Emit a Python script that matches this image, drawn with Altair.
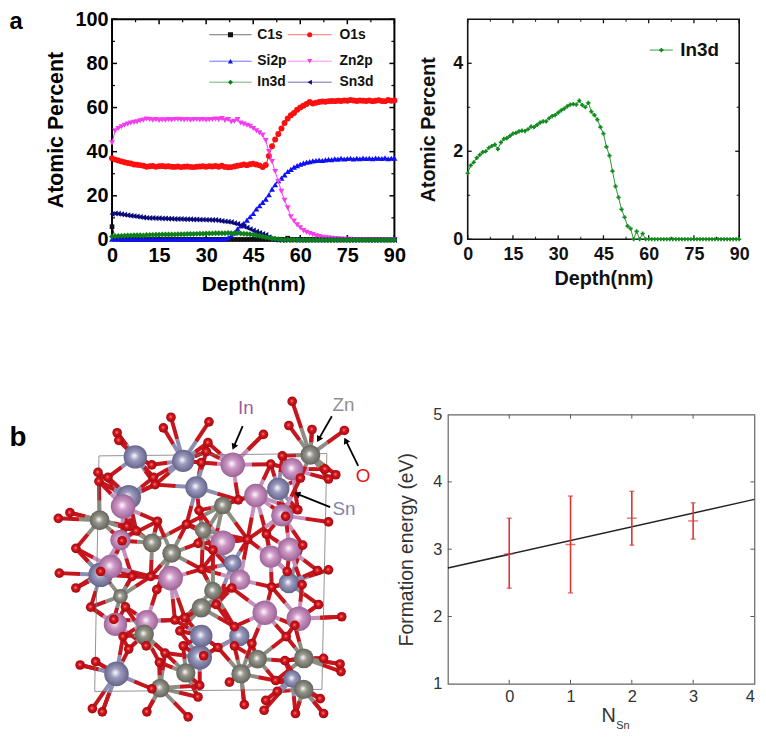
import math
import altair as alt
import pandas as pd

FONT = "Liberation Sans"

DEPTH = list(range(91))
C1S = [6, 1, .5] + [.2] * 53 + [.8] + [.2] * 34
O1S = [37,36.4,36,35.6,35.2,34.9,34.6,34.2,34.1,33.9,
       33.6,33.2,33.4,33.5,33.2,33.4,33.5,33.3,33.4,33.2,
       33.1,33.3,33.0,33.2,33.3,33.1,33.0,33.2,33.3,33.4,
       33.2,33.4,33.3,33.5,33.2,33.6,33.1,32.9,33.0,33.3,
       33.6,33.9,34.2,33.9,34.3,34.5,34.2,33.8,33.0,34.0,
       38,42.5,45.5,48,50.5,53,55,56.5,57.5,59,
       60,60.8,61.6,62.5,61.8,62.2,62.5,62.7,62.6,62.9,
       63,62.9,63.1,63,63.2,63.1,63.4,63.2,63,63.2,
       63.1,63,63.2,62.9,63.1,63.3,63,62.9,63.4,63.1,63.2]
SI2P = [.3] * 36 + [.5,1,2,3.2,5,6.3,7.5,9,10.5,12,14,15.5,17,18.5,20.5,23,25,26.8,28,29.5,
        31,32,33,33.7,34.3,34.8,35.2,35.5,35.8,36,36.2,36,36.3,36.5,36.4,36.8,36.6,37,36.7,36.9,
        37,36.7,37,36.8,37.1,36.9,37,36.8,37.1,37,36.9,37.2,36.8,37,37.1]
ZN2P = [44,49.5,50.5,51.3,52,52.5,53,53.3,53.5,54,
        54.3,54.8,54.6,54.3,54.5,54.2,54.4,54.3,54.5,54.4,
        54.6,54.7,54.5,54.4,54.6,54.3,54.5,54.6,54.4,54.5,
        54.3,54.5,54.6,54.8,54.5,55,54.2,54.6,53.5,53.8,
        54.5,53,52.5,52,51.5,50.5,49.5,48.5,47.5,45,
        40,35.5,31,26.5,22,18,14.5,10.5,8.5,6.8,
        5.5,4.2,3.5,2.9,2.4,1.9,1.5,1.2,1,.8,
        .7,.6,.5,.4,.3,.3,.3,.2,.2,.2,
        .2,.2,.2,.2,.2,.2,.2,.2,.2,.2,.2]
IN3D = [1.5,1.68,1.75,1.85,1.92,1.98,2.0,2.08,2.12,2.15,
        2.05,2.2,2.28,2.3,2.35,2.4,2.42,2.45,2.47,2.46,
        2.5,2.56,2.55,2.6,2.65,2.68,2.68,2.75,2.8,2.82,
        2.88,2.93,2.97,3.02,3.06,3.07,3.06,3.15,3.05,3.0,
        3.1,2.9,2.82,2.72,2.55,2.4,2.1,1.9,1.55,1.2,
        .95,.68,.5,.3,.24,0,.18,0,.13,0] + [0] * 31
SN3D = [11.8,12,11.9,11.6,11.4,11.2,11,10.8,10.6,10.4,
        10.2,10,9.9,9.9,9.8,9.8,9.7,9.7,9.6,9.6,
        9.5,9.5,9.5,9.4,9.4,9.4,9.3,9.3,9.2,9.2,
        9.1,9.1,9,9,8.8,8.6,8.4,8.2,8,7.6,
        7.2,6.7,6.1,5.5,4.9,4.3,3.7,3.2,2.7,2.2,
        1.2,.4,.1] + [0] * 38

LEG_NAMES = ["C1s", "O1s", "Si2p", "Zn2p", "In3d", "Sn3d"]
LEG_X0 = [31, 56, 31, 56, 31, 56]
LEG_X1 = [44.5, 70, 44.5, 70, 44.5, 70]
LEG_Y = [93, 93, 81, 81, 71.5, 71.5]
LEG_TX = [46.3, 72.5, 46.3, 72.5, 46.3, 72.5]

N_SN = [0, 1, 2, 3]
E_MEAN = [2.93, 3.07, 3.46, 3.42]
E_LOW = [2.42, 2.35, 3.06, 3.15]
E_HIGH = [3.46, 3.79, 3.86, 3.69]
FIT_X = [-1, 4]
FIT_Y = [2.72, 3.74]

SN_ATOMS = [(405,228,40),(550,240,38),(590,320,38),(838,325,38),(385,350,42),(300,585,42),
            (348,885,42),(600,835,42),(605,770,38),(700,550,30),(870,610,35),(720,770,35),(880,900,30)]
IN_ATOMS = [(700,252,42),(880,265,38),(770,345,40),(850,405,38),(360,480,35),(815,530,38),
            (330,560,40),(722,600,35),(345,735,40),(440,725,38),(368,378,42),(670,488,42),
            (872,508,40),(512,595,42),(797,700,42),(900,718,42)]
ZN_ATOMS = [(935,222,34),(297,420,34),(456,488,32),(515,520,32),(670,375,30),(610,450,28),
            (640,633,30),(605,685,33),(432,765,33),(360,650,25),(775,840,32),(725,885,33),
            (558,882,33),(915,838,34),(915,932,33),(480,928,32)]
O_ATOMS = [(880,60),(870,133),(940,145),(1038,148),(513,108),(490,140),(350,155),(355,178),
           (628,122),(793,160),(625,185),(620,212),(605,245),(850,225),(815,250),(455,252),
           (292,275),(322,290),(295,302),(460,290),(465,312),(980,265),(1012,282),(990,295),
           (905,292),(717,358),(598,390),(897,388),(860,408),(207,397),(172,414),(380,438),
           (408,452),(472,423),(560,432),(990,425),(745,478),(802,462),(365,482),(225,505),
           (912,495),(640,510),(595,490),(300,575),(175,580),(606,568),(452,590),(395,590),
           (990,570),(957,572),(865,575),(697,625),(818,622),(225,625),(910,615),(470,630),
           (270,683),(375,682),(650,675),(960,675),(1030,712),(340,720),(555,715),(525,722),
           (705,742),(888,738),(368,772),(540,755),(862,772),(438,800),(758,793),(705,800),
           (655,805),(550,800),(495,822),(612,830),(385,810),(858,845),(975,838),(1025,855),
           (1028,878),(238,858),(285,848),(478,850),(600,920),(455,930),(835,938),(830,905),
           (595,955),(800,965),(735,978),(275,990),(305,1000),(440,1000),(795,995),(890,1005),
           (975,1005),(565,1015),(965,960),(690,910)]
CELL_X = [295, 985, 970, 282, 295]
CELL_Y = [225, 218, 932, 938, 225]
ARROWS = [(730,135,703,198),(1000,105,960,175),(1080,255,1042,178),(995,380,895,340)]
ATOM_LABELS = [("In",740,80,"#a8569c"),("Zn",1035,72,"#8f8f8f"),("Sn",1037,385,"#8484ab"),("O",1095,285,"#e01818")]


def ticks(vals, channel, scale, axis, span, length, color, width):
    df = pd.DataFrame({"v": vals})
    out = []
    if channel == "x":
        for a, b in [(span, span - length), (0, length)]:
            out.append(alt.Chart(df).mark_rule(color=color, strokeWidth=width).encode(
                x=alt.X("v:Q", scale=scale, axis=axis), y=alt.value(a), y2=alt.value(b)))
    else:
        for a, b in [(0, length), (span, span - length)]:
            out.append(alt.Chart(df).mark_rule(color=color, strokeWidth=width).encode(
                y=alt.Y("v:Q", scale=scale, axis=axis), x=alt.value(a), x2=alt.value(b)))
    return out


def series_layers(xvals, yvals, color, shape, X, Y, msize, line=1.0):
    df = pd.DataFrame({"d": xvals, "v": yvals})
    base = alt.Chart(df).encode(x=X("d:Q"), y=Y("v:Q"))
    return [base.mark_line(color=color, strokeWidth=line),
            base.mark_point(color=color, shape=shape, filled=True, size=msize, opacity=1)]


def axis_maker(kind, scale, axis):
    cls = alt.X if kind == "x" else alt.Y
    return lambda f: cls(f, scale=scale, axis=axis)


# ---------- panel a, left
AW, AH = 285, 222.7
xs_a = alt.Scale(domain=[0, 90], nice=False, zero=False)
ys_a = alt.Scale(domain=[0, 100], nice=False, zero=False)
xa_a = alt.Axis(values=list(range(0, 91, 15)), title="Depth(nm)", ticks=False, domain=False, grid=False,
                labelFont=FONT, labelFontWeight="bold", labelFontSize=20, labelColor="#000", labelPadding=6,
                titleFont=FONT, titleFontWeight="bold", titleFontSize=21, titleColor="#000", titlePadding=8,
                labelOverlap=False, labelFlush=False)
ya_a = alt.Axis(values=list(range(0, 101, 20)), title="Atomic Percent", ticks=False, domain=False, grid=False,
                labelFont=FONT, labelFontWeight="bold", labelFontSize=20, labelColor="#000", labelPadding=4,
                titleFont=FONT, titleFontWeight="bold", titleFontSize=21.5, titleColor="#000", titlePadding=8,
                labelOverlap=False)
XA = axis_maker("x", xs_a, xa_a)
YA = axis_maker("y", ys_a, ya_a)
layers_a = []
layers_a += ticks(list(range(0, 91, 15)), "x", xs_a, xa_a, AH, 5, "#000", 1.5)
layers_a += ticks([7.5 + 15 * i for i in range(6)], "x", xs_a, xa_a, AH, 3, "#000", 1.2)
layers_a += ticks(list(range(0, 101, 20)), "y", ys_a, ya_a, AW, 5, "#000", 1.5)
layers_a += ticks(list(range(10, 100, 20)), "y", ys_a, ya_a, AW, 3, "#000", 1.2)
COL = {"C1s": "#111111", "O1s": "#fb0f0f", "Si2p": "#1010f5", "Zn2p": "#f53cf0", "In3d": "#0f7f1c", "Sn3d": "#0a0a7a"}
SHP = {"C1s": "square", "O1s": "circle", "Si2p": "triangle-up", "Zn2p": "triangle-down", "In3d": "diamond", "Sn3d": "triangle-left"}
layers_a += series_layers(DEPTH, C1S, COL["C1s"], SHP["C1s"], XA, YA, 22)
layers_a += series_layers(DEPTH, SI2P, COL["Si2p"], SHP["Si2p"], XA, YA, 36)
layers_a += series_layers(DEPTH, O1S, COL["O1s"], SHP["O1s"], XA, YA, 36)
layers_a += series_layers(DEPTH, ZN2P, COL["Zn2p"], SHP["Zn2p"], XA, YA, 36)
layers_a += series_layers(DEPTH, SN3D, COL["Sn3d"], SHP["Sn3d"], XA, YA, 36)
layers_a += series_layers(DEPTH, IN3D, COL["In3d"], SHP["In3d"], XA, YA, 36)
leg = pd.DataFrame({"n": LEG_NAMES, "x0": LEG_X0, "x1": LEG_X1, "y": LEG_Y, "tx": LEG_TX})
leg["m"] = (leg.x0 + leg.x1) / 2
for _, r in leg.iterrows():
    one = pd.DataFrame([r.to_dict()])
    layers_a.append(alt.Chart(one).mark_rule(color=COL[r.n], strokeWidth=1, opacity=.6).encode(
        x=XA("x0:Q"), x2="x1:Q", y=YA("y:Q")))
    layers_a.append(alt.Chart(one).mark_point(color=COL[r.n], shape=SHP[r.n], filled=True, size=26, opacity=1).encode(
        x=XA("m:Q"), y=YA("y:Q")))
    layers_a.append(alt.Chart(one).mark_text(font=FONT, fontWeight="bold", fontSize=14, align="left", color="#111").encode(
        x=XA("tx:Q"), y=YA("y:Q"), text="n:N"))
layers_a.append(alt.Chart(pd.DataFrame({"t": ["a"]})).mark_text(
    font=FONT, fontSize=24, fontWeight="bold", color="#000", align="left").encode(
    x=alt.value(-103.5), y=alt.value(3), text="t:N"))
panel_a = alt.layer(*layers_a).properties(width=AW, height=AH, view=alt.ViewBackground(stroke="#000", strokeWidth=2))

# ---------- panel a, right
BW, BH = 274, 222
xs_b = alt.Scale(domain=[0, 90], nice=False, zero=False)
ys_b = alt.Scale(domain=[0, 5], nice=False, zero=False)
xa_b = alt.Axis(values=list(range(0, 91, 15)), title="Depth(nm)", ticks=False, domain=False, grid=False,
                labelFont=FONT, labelFontWeight="bold", labelFontSize=18, labelColor="#111", labelPadding=6,
                titleFont=FONT, titleFontWeight="bold", titleFontSize=20, titleColor="#111", titlePadding=6,
                labelOverlap=False, labelFlush=False)
ya_b = alt.Axis(values=[0, 2, 4], title="Atomic Percent", ticks=False, domain=False, grid=False,
                labelFont=FONT, labelFontWeight="bold", labelFontSize=18, labelColor="#111", labelPadding=5,
                titleFont=FONT, titleFontWeight="bold", titleFontSize=20, titleColor="#111", titlePadding=14,
                labelOverlap=False)
XB = axis_maker("x", xs_b, xa_b)
YB = axis_maker("y", ys_b, ya_b)
layers_b = []
layers_b += ticks(list(range(0, 91, 15)), "x", xs_b, xa_b, BH, 4, "#111", 1.3)
layers_b += ticks([7.5 + 15 * i for i in range(6)], "x", xs_b, xa_b, BH, 2.5, "#111", 1)
layers_b += ticks([0, 2, 4], "y", ys_b, ya_b, BW, 4, "#111", 1.3)
layers_b += ticks([1, 3], "y", ys_b, ya_b, BW, 2.5, "#111", 1)
layers_b += series_layers(DEPTH, IN3D, "#0f8a1c", "cross", XB, YB, 18, .9)
leg_b = pd.DataFrame({"x0": [60.4], "x1": [68], "m": [64.2], "y": [4.3], "tx": [70.5], "n": ["In3d"]})
layers_b.append(alt.Chart(leg_b).mark_rule(color="#0f8a1c", strokeWidth=1.4, opacity=.6).encode(
    x=XB("x0:Q"), x2="x1:Q", y=YB("y:Q")))
layers_b.append(alt.Chart(leg_b).mark_point(color="#0f8a1c", shape="cross", filled=True, size=18, opacity=1).encode(
    x=XB("m:Q"), y=YB("y:Q")))
layers_b.append(alt.Chart(leg_b).mark_text(font=FONT, fontWeight="bold", fontSize=19, align="left", color="#111").encode(
    x=XB("tx:Q"), y=YB("y:Q"), text="n:N"))
panel_b = alt.layer(*layers_b).properties(width=BW, height=BH, view=alt.ViewBackground(stroke="#111", strokeWidth=1.6))

# ---------- panel b, structure
DW, DH = 309.4, 271.7
CW, CH = 278.5, DH
xs_c = alt.Scale(domain=[334.5, 1170], nice=False, zero=False)
ys_c = alt.Scale(domain=[915, 100], nice=False, zero=False)
XC = axis_maker("x", xs_c, None)
YC = axis_maker("y", ys_c, None)


def grad(light, mid, dark):
    return alt.RadialGradient(gradient="radial", x1=.45, y1=.45, r1=0, x2=.5, y2=.5, r2=.55, stops=[
        alt.GradientStop(offset=0, color=light), alt.GradientStop(offset=.35, color=mid),
        alt.GradientStop(offset=1, color=dark)])


KINDS = [("Sn", SN_ATOMS, "#8e8eb4", ("#ffffff", "#9c9cc2", "#5c5c80")),
         ("In", IN_ATOMS, "#c490bc", ("#ffffff", "#cf9ac7", "#935c8e")),
         ("Zn", ZN_ATOMS, "#8d8d84", ("#ffffff", "#96968c", "#5c5c54"))]
bond_rows = []
for kind, atoms, bcol, _ in KINDS:
    for (mx, my, mr) in atoms:
        near = sorted(O_ATOMS, key=lambda o: math.hypot(o[0] - mx, o[1] - my))[:6]
        for ox, oy in near:
            if math.hypot(ox - mx, oy - my) < 170:
                mid_x, mid_y = (ox + mx) / 2, (oy + my) / 2
                bond_rows.append({"x": mx, "y": my, "x2": mid_x, "y2": mid_y, "c": bcol})
                bond_rows.append({"x": mid_x, "y": mid_y, "x2": ox, "y2": oy, "c": "#c4161c"})
# the outlying oxygens reach out to their nearest metal atom
metals = [(a[0], a[1]) for _, atoms, _, _ in KINDS for a in atoms]
bcol_of = {(a[0], a[1]): k[2] for k in KINDS for a in k[1]}
for ox, oy in O_ATOMS:
    mx, my = min(metals, key=lambda m: math.hypot(m[0] - ox, m[1] - oy))
    mid_x, mid_y = (ox + mx) / 2, (oy + my) / 2
    bond_rows.append({"x": mx, "y": my, "x2": mid_x, "y2": mid_y, "c": bcol_of[(mx, my)]})
    bond_rows.append({"x": mid_x, "y": mid_y, "x2": ox, "y2": oy, "c": "#c4161c"})
bonds = pd.DataFrame(bond_rows)
layers_c = [alt.Chart(bonds).mark_rule(strokeWidth=4).encode(
    x=XC("x:Q"), x2="x2:Q", y=YC("y:Q"), y2="y2:Q",
    color=alt.Color("c:N", scale=None, legend=None))]
layers_c.append(alt.Chart(pd.DataFrame({"x": CELL_X, "y": CELL_Y, "o": range(5)})).mark_line(
    color="#777", strokeWidth=.8).encode(x=XC("x:Q"), y=YC("y:Q"), order="o:Q"))
for kind, atoms, _, g in KINDS:
    df = pd.DataFrame(atoms, columns=["x", "y", "r"])
    df["s"] = (df.r / 3) ** 2 * math.pi
    layers_c.append(alt.Chart(df).mark_circle(color=grad(*g), opacity=1).encode(
        x=XC("x:Q"), y=YC("y:Q"), size=alt.Size("s:Q", scale=None, legend=None)))
od = pd.DataFrame(O_ATOMS, columns=["x", "y"])
layers_c.append(alt.Chart(od).mark_circle(color=grad("#ff8a8a", "#d8141c", "#960a10"), size=95, opacity=1).encode(
    x=XC("x:Q"), y=YC("y:Q")))
arrows = pd.DataFrame(ARROWS, columns=["x", "y", "x2", "y2"])
arrows["a"] = [(math.degrees(math.atan2(x2 - x, -(y2 - y))) + 360) % 360 for x, y, x2, y2 in ARROWS]
layers_c.append(alt.Chart(arrows).mark_rule(color="#000", strokeWidth=1.8).encode(
    x=XC("x:Q"), x2="x2:Q", y=YC("y:Q"), y2="y2:Q"))
layers_c.append(alt.Chart(arrows).mark_point(shape="triangle-up", filled=True, color="#000", size=50, opacity=1).encode(
    x=XC("x2:Q"), y=YC("y2:Q"), angle=alt.Angle("a:Q", scale=None)))
for t, x, y, col in ATOM_LABELS:
    layers_c.append(alt.Chart(pd.DataFrame({"x": [x], "y": [y], "t": [t]})).mark_text(
        font=FONT, fontSize=19, color=col).encode(x=XC("x:Q"), y=YC("y:Q"), text="t:N"))
layers_c.append(alt.Chart(pd.DataFrame({"x": [24], "y": [170], "t": ["b"]})).mark_text(
    font=FONT, fontSize=28, fontWeight="bold", color="#000", align="left").encode(
    x=XC("x:Q"), y=YC("y:Q"), text="t:N"))
panel_c = alt.layer(*layers_c).properties(width=CW, height=CH, view=alt.ViewBackground(stroke=None))

# ---------- panel b, formation energy
xs_d = alt.Scale(domain=[-1, 4], nice=False, zero=False)
ys_d = alt.Scale(domain=[1, 5], nice=False, zero=False)
xa_d = alt.Axis(values=[0, 1, 2, 3, 4], title=None, ticks=False, domain=False, grid=False,
                labelFont=FONT, labelFontSize=16.5, labelColor="#333", labelPadding=5, labelOverlap=False, labelFlush=True)
ya_d = alt.Axis(values=[1, 2, 3, 4, 5], title="Formation energy (eV)", ticks=False, domain=False, grid=False,
                labelFont=FONT, labelFontSize=16.5, labelColor="#333", labelPadding=6,
                titleFont=FONT, titleFontWeight="normal", titleFontSize=19.5, titleColor="#333", titlePadding=17,
                labelOverlap=False)
XD = axis_maker("x", xs_d, xa_d)
YD = axis_maker("y", ys_d, ya_d)
layers_d = []
layers_d += ticks([0, 1, 2, 3], "x", xs_d, xa_d, DH, 4, "#555", 1)
layers_d += ticks([2, 3, 4], "y", ys_d, ya_d, DW, 4, "#555", 1)
err = pd.DataFrame({"n": N_SN, "m": E_MEAN, "lo": E_LOW, "hi": E_HIGH})
layers_d.append(alt.Chart(pd.DataFrame({"x": FIT_X, "y": FIT_Y})).mark_line(color="#222", strokeWidth=1.5).encode(
    x=XD("x:Q"), y=YD("y:Q")))
layers_d.append(alt.Chart(err).mark_rule(color="#e43232", strokeWidth=1.6).encode(
    x=XD("n:Q"), y=YD("lo:Q"), y2="hi:Q"))
for f, s in [("lo", 5), ("hi", 5), ("m", 10)]:
    layers_d.append(alt.Chart(err).mark_tick(color="#e43232", thickness=1.4, size=s, orient="horizontal").encode(
        x=XD("n:Q"), y=YD(f + ":Q")))
layers_d.append(alt.Chart(pd.DataFrame({"t": ["N"]})).mark_text(font=FONT, fontSize=20, color="#333", align="left").encode(
    x=alt.value(155), y=alt.value(DH + 33), text="t:N"))
layers_d.append(alt.Chart(pd.DataFrame({"t": ["Sn"]})).mark_text(font=FONT, fontSize=11, color="#333", align="left").encode(
    x=alt.value(170), y=alt.value(DH + 43), text="t:N"))
panel_d = alt.layer(*layers_d).properties(width=DW, height=DH, view=alt.ViewBackground(stroke="#666", strokeWidth=1.2))

# ---------- layout
row1 = alt.hconcat(panel_a, panel_b, spacing=11)
row2 = alt.hconcat(panel_c, panel_d, spacing=7)
chart = alt.vconcat(row1, row2, spacing=101).properties(padding={"top": -3, "left": 0, "right": 0, "bottom": 0})
chart.save("out.html", embed_options={"renderer": "svg", "actions": False})
